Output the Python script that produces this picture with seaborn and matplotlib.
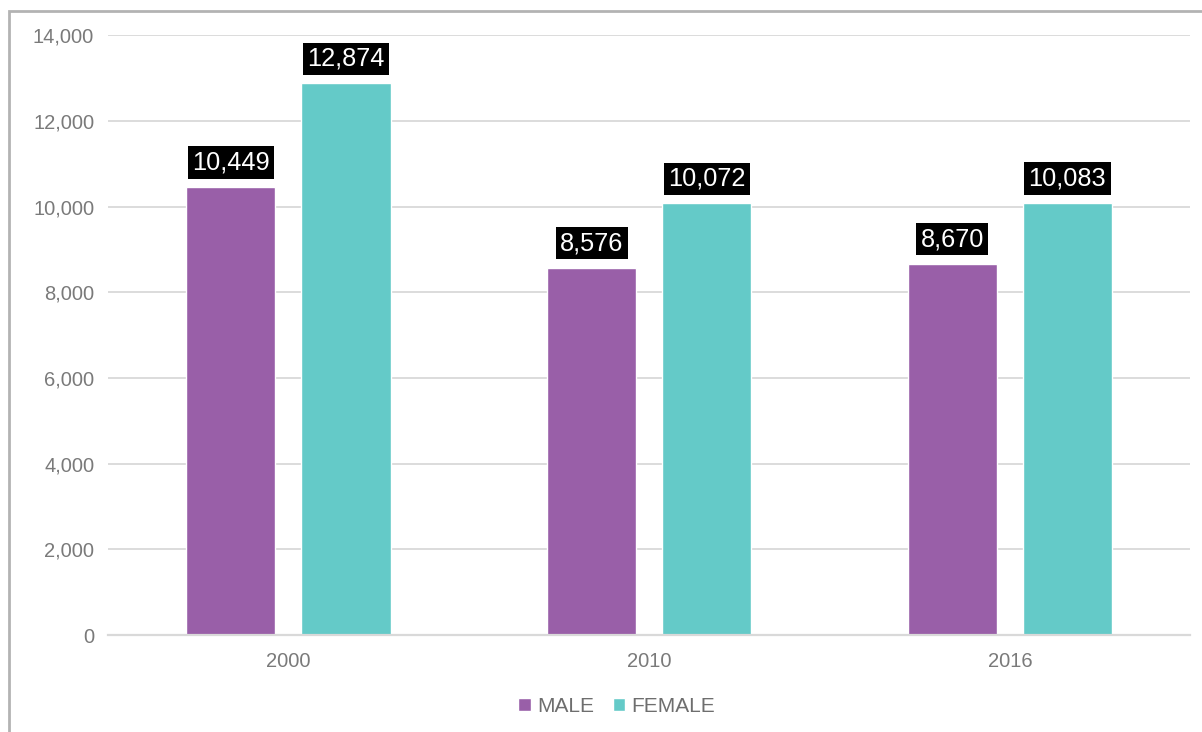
import matplotlib
matplotlib.use("Agg")
import matplotlib.pyplot as plt
from matplotlib.patches import Rectangle
import seaborn as sns
import pandas as pd

years = ["2000", "2010", "2016"]
male = [10449, 8576, 8670]
female = [12874, 10072, 10083]
series_names = ["MALE", "FEMALE"]
colors = ["#995FA8", "#64CAC8"]
y_ticks = [0, 2000, 4000, 6000, 8000, 10000, 12000, 14000]

df = pd.DataFrame({
    "year": years * 2,
    "sex": [series_names[0]] * len(years) + [series_names[1]] * len(years),
    "count": male + female,
})

sns.set_theme(style="white")
plt.rcParams["font.family"] = ["Liberation Sans", "DejaVu Sans"]

fig = plt.figure(figsize=(12.02, 7.32), dpi=100)
ax = fig.add_axes([0.0899, 0.1325, 0.9003, 0.8195])

sns.barplot(data=df, x="year", y="count", hue="sex", palette=colors,
            width=0.638, gap=0.225, saturation=1, ax=ax, legend=True)

ax.set_xlim(-0.5, 2.5)
ax.set_ylim(0, 14000)
ax.set_yticks(y_ticks)
ax.set_yticklabels([f"{t:,}" for t in y_ticks])
ax.set_xlabel("")
ax.set_ylabel("")
ax.grid(axis="y", color="#d9d9d9", linewidth=1.3)
ax.set_axisbelow(True)
for side in ["left", "right", "top"]:
    ax.spines[side].set_visible(False)
ax.spines["bottom"].set_color("#d9d9d9")
ax.spines["bottom"].set_linewidth(1.6)
ax.tick_params(axis="both", length=0, labelsize=14.5, labelcolor="#7a7a7a", pad=10)
ax.tick_params(axis="x", pad=12)

# value labels on black boxes
for container in ax.containers:
    vals = [bar.get_height() for bar in container]
    ax.bar_label(container, labels=[f"{int(v):,}" for v in vals], padding=9,
                 color="white", fontsize=18.3,
                 bbox=dict(facecolor="black", edgecolor="none", pad=3.2))

# legend under the plot
handles, labels = ax.get_legend_handles_labels()
ax.legend(handles, labels, loc="center", bbox_to_anchor=(0.513, 0.0355),
          bbox_transform=fig.transFigure, ncol=2, frameon=False,
          fontsize=15, labelcolor="#6e6e6e", handlelength=0.6, handleheight=0.6,
          handletextpad=0.3, columnspacing=0.9)

# outer frame
fig.patches.append(Rectangle((9 / 1202, -0.1), 1.2, (732 - 11) / 732 + 0.1,
                             transform=fig.transFigure, fill=False,
                             edgecolor="#b3b3b3", linewidth=2, zorder=0))

fig.savefig("out.png", dpi=100)
